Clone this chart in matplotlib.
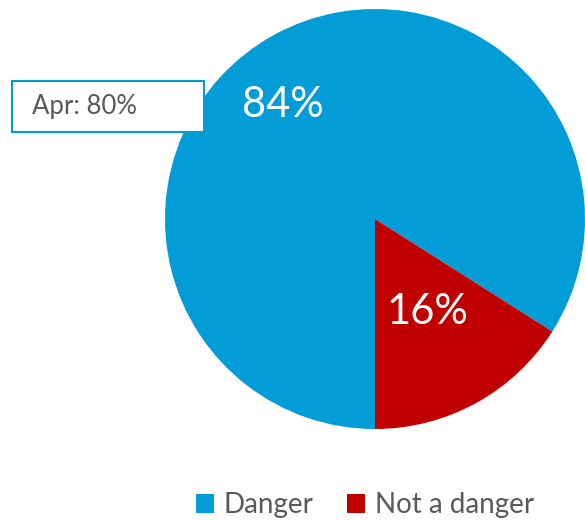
import matplotlib
matplotlib.use("Agg")
import matplotlib.pyplot as plt
from matplotlib.patches import Rectangle, Patch

categories = ["Danger", "Not a danger"]
values = [84, 16]
colors = ["#029CD7", "#C00000"]
note = "Apr: 80%"

plt.rcParams['font.family'] = ['Lato', 'DejaVu Sans']

W, H = 585, 520
fig = plt.figure(figsize=(W / 100, H / 100), dpi=100)

# pie axes: centre (375, 219), radius 210 px
ax = fig.add_axes([165 / W, (H - 429) / H, 420 / W, 420 / H])
wedges, _ = ax.pie(values, colors=colors, startangle=-90, counterclock=False,
                   radius=1, wedgeprops=dict(linewidth=0))
ax.set_xlim(-1, 1)
ax.set_ylim(-1, 1)
ax.set_aspect('equal')
ax.axis('off')

# percentage labels
ax.text(-0.437, 0.543, f"{values[0]}%", color="white", fontsize=30,
        ha="center", va="center")
ax.text(0.248, -0.443, f"{values[1]}%", color="white", fontsize=30,
        ha="center", va="center")

# annotation box
box = Rectangle((12 / W, 1 - 132 / H), 192 / W, 51 / H, transform=fig.transFigure,
                facecolor="white", edgecolor="#029CD7", linewidth=1.5, zorder=5)
fig.patches.append(box)
fig.text(32 / W, 1 - 107 / H, note, color="#595959", fontsize=18.5,
         ha="left", va="center", zorder=6)

handles = [Patch(facecolor=c, edgecolor="none") for c in colors]
fig.legend(handles, categories, loc="center", bbox_to_anchor=(365 / W, 1 - 505 / H),
           ncol=2, frameon=False, fontsize=20, labelcolor="#595959",
           handlelength=0.65, handleheight=0.65, handletextpad=0.35,
           columnspacing=1.2, borderaxespad=0, borderpad=0)

fig.savefig("out.png", dpi=100)
